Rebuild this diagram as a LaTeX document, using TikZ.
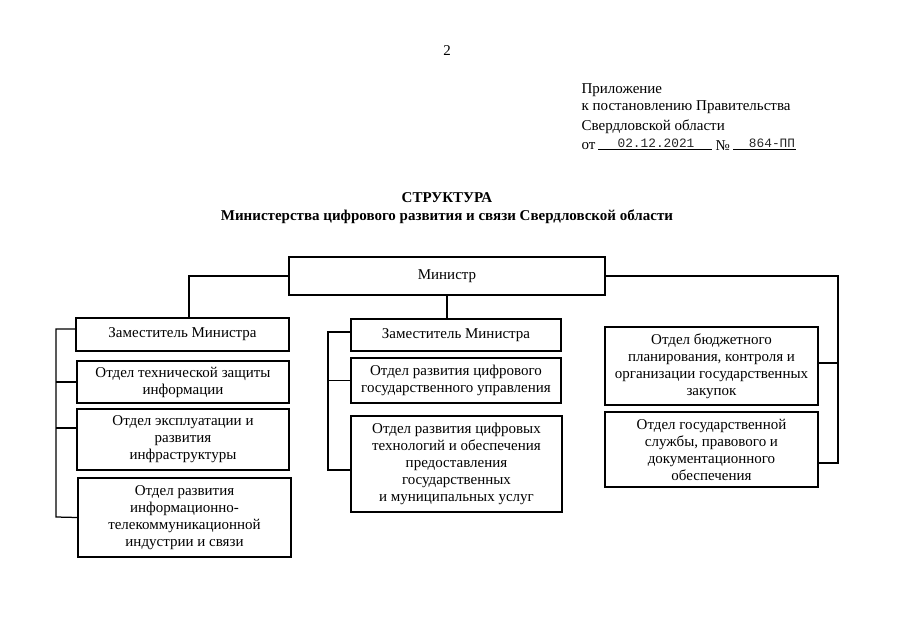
\documentclass[tikz,border=0pt]{standalone}
\usepackage{fontspec}
\setmainfont{Liberation Serif}
\setmonofont{Liberation Mono}
\tikzset{
    unit/.style={draw, align=center, inner sep=1pt, font=\fontsize{15}{17}\selectfont},
    headline/.style={anchor=west, inner sep=0pt, font=\fontsize{15}{17}\selectfont},
    typed/.style={inner sep=0pt, text=black!85, font=\fontsize{12.8}{14}\ttfamily}
}
\begin{document}
\begin{tikzpicture}[x=1pt,y=-1pt,line width=1.25pt]
    \useasboundingbox [fill=white] (0,0) rectangle (905,640);
    \node [font=\fontsize{15}{17}\selectfont] (pagenum) at (447,51) {2};
    % header of the appendix
    \node [headline] (app1) at (581,90) {Приложение};
    \node [headline] (app2) at (581,107) {к постановлению Правительства};
    \node [headline] (app3) at (581,127) {Свердловской области};
    \node [headline] (app4) at (581,146) {от};
    \node [headline] (app5) at (715,146) {№};
    \node [typed] (date) at (656,143) {02.12.2021};
    \node [typed] (docnum) at (772,143) {864-ПП};
    \draw [line width=0.8pt] (598,149) coordinate (d_1) -- (712,149) coordinate (d_2);
    \draw [line width=0.8pt] (733,149) coordinate (n_1) -- (796,149) coordinate (n_2);
    \node [font=\fontsize{15}{17}\bfseries] (title) at (447,198) {СТРУКТУРА};
    \node [font=\fontsize{15}{17}\bfseries] (subtitle) at (447,217)
        {Министерства цифрового развития и связи Свердловской области};
    % boxes
    \node [unit, minimum width=316pt, minimum height=38pt] (minister) at (447,276) {Министр};
    \node [unit, minimum width=213pt, minimum height=33pt] (dep1) at (182.5,334.5) {Заместитель Министра};
    \node [unit, minimum width=212pt, minimum height=42pt] (l2) at (183,382) {Отдел технической защиты\\информации};
    \node [unit, minimum width=212pt, minimum height=61pt] (l3) at (183,439.5) {Отдел эксплуатации и\\развития\\инфраструктуры};
    \node [unit, minimum width=213pt, minimum height=79pt] (l4) at (184.5,517.5) {Отдел развития\\информационно-\\телекоммуникационной\\индустрии и связи};
    \node [unit, minimum width=210pt, minimum height=32pt] (dep2) at (456,335) {Заместитель Министра};
    \node [unit, minimum width=210pt, minimum height=45pt] (m2) at (456,380.5) {Отдел развития цифрового\\государственного управления};
    \node [unit, minimum width=211pt, minimum height=96pt] (m3) at (456.5,464) {Отдел развития цифровых\\технологий и обеспечения\\предоставления\\государственных\\и муниципальных услуг};
    \node [unit, minimum width=213pt, minimum height=78pt] (r1) at (711.5,366) {Отдел бюджетного\\планирования, контроля и\\организации государственных\\закупок};
    \node [unit, minimum width=213pt, minimum height=75pt] (r2) at (711.5,449.5) {Отдел государственной\\службы, правового и\\документационного\\обеспечения};
    % connectors
    \coordinate (lspine) at (56,517);
    \coordinate (mspine) at (328,470);
    \coordinate (rspine) at (838,463);
    \draw (minister.west) -| ([xshift=6.5pt]dep1.north);
    \draw (minister.south) -- (minister.south |- dep2.north);
    \draw (minister.east) -| (rspine) -- ([yshift=-13.5pt]r2.east);
    \draw ([yshift=3pt]r1.east) -- ([yshift=3pt]r1.east -| rspine);
    \draw ([yshift=5.5pt]dep1.west) -| (lspine) -- (l4.west);
    \draw (l2.west) -- (l2.west -| lspine);
    \draw ([yshift=11.5pt]l3.west) -- ([yshift=11.5pt]l3.west -| lspine);
    \draw ([yshift=3pt]dep2.west) -| (mspine) -- ([yshift=-6pt]m3.west);
    \draw (m2.west) -- (m2.west -| mspine);
\end{tikzpicture}
\end{document}
